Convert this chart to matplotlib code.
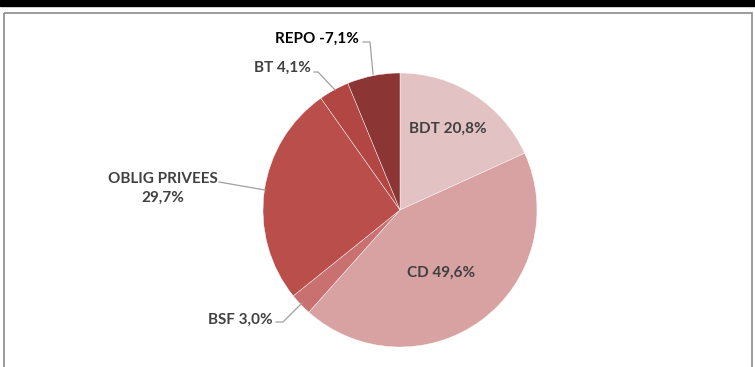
import matplotlib.pyplot as plt
from matplotlib.patches import Rectangle

labels = ["BDT", "CD", "BSF", "OBLIG PRIVEES", "BT", "REPO"]
shares = [20.8, 49.6, 3.0, 29.7, 4.1, -7.1]
colors = ["#e3c2c3", "#d8a1a2", "#c97171", "#b94e4b", "#b24643", "#8b3634"]

W, H = 755, 367
fig = plt.figure(figsize=(W / 100, H / 100), dpi=100)

# pie drawn in its own axes so angles stay circular
cx, cy, r = 400, 210, 137
pax = fig.add_axes([(cx - r) / W, (H - cy - r) / H, 2 * r / W, 2 * r / H])
pax.pie([abs(v) for v in shares], colors=colors, startangle=90, counterclock=False,
        wedgeprops=dict(edgecolor="white", linewidth=0.3))
pax.set_aspect("equal")
pax.set_xlim(-1, 1)
pax.set_ylim(-1, 1)

# overlay axes in pixel units for frame, labels and leader lines
ax = fig.add_axes([0, 0, 1, 1])
ax.set_xlim(0, W)
ax.set_ylim(H, 0)
ax.axis("off")

ax.add_patch(Rectangle((0, 0), W, 6, color="black", zorder=0))
ax.add_patch(Rectangle((3.5, 12.5), W - 7, H, fill=False, edgecolor="#8a8a8a", lw=1.2, zorder=0))


def fmt(v):
    return f"{v:.1f}%".replace(".", ",")


font = dict(family="Lato", fontweight="bold", fontsize=11)
grey = "#404040"
lead = dict(color="#a0a0a0", lw=0.9)

ax.text(448, 129, f"{labels[0]} {fmt(shares[0])}", ha="center", va="center", color=grey, **font)
ax.text(441, 273, f"{labels[1]} {fmt(shares[1])}", ha="center", va="center", color=grey, **font)

ax.text(240, 320, f"{labels[2]} {fmt(shares[2])}", ha="center", va="center", color=grey, **font)
ax.plot([276, 283, 302], [322, 322, 303], **lead)

ax.text(163, 188, f"{labels[3]}\n{fmt(shares[3])}", ha="center", va="center", color=grey,
        linespacing=1.45, **font)
ax.plot([219, 265], [182, 190], **lead)

ax.text(282, 68, f"{labels[4]} {fmt(shares[4])}", ha="center", va="center", color=grey, **font)
ax.plot([314, 318, 335], [72, 72, 90], **lead)

ax.text(317, 39, f"{labels[5]} {fmt(shares[5])}", ha="center", va="center", color="black", **font)
ax.plot([363, 370, 373], [42, 42, 74], **lead)

fig.savefig("out.png", dpi=100)
